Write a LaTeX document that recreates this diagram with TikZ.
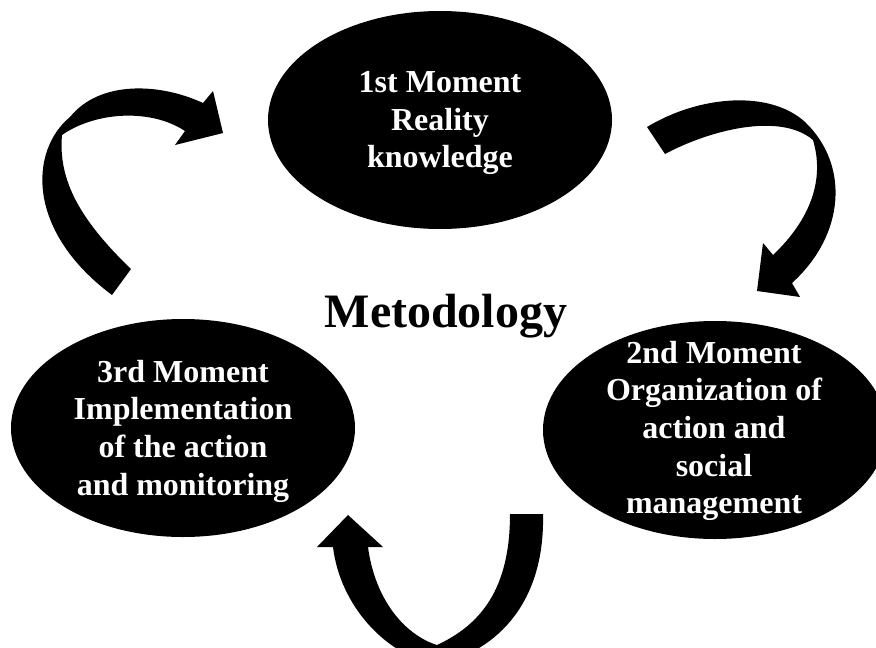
\documentclass[tikz,border=0pt]{standalone}
\usepackage{fontspec}
\setmainfont{Liberation Serif}
\usetikzlibrary{shapes.geometric}

\begin{document}
\begin{tikzpicture}[x=1pt, y=-1pt,
    moment/.style={ellipse, fill=black, minimum width=344pt, minimum height=218pt, inner sep=0pt},
    momtext/.style={text=white, align=center, font=\fontsize{32}{37.7}\selectfont\bfseries},
    bigarrow/.style={fill=black}]
  \useasboundingbox (0,0) rectangle (876,648);
  % the three moments
  \node[moment] (first)  at (440,120) {};
  \node[moment] (second) at (715,430) {};
  \node[moment] (third)  at (183,428) {};
  \node[momtext] (firsttext)  at (440,123) {1st Moment\\Reality\\knowledge};
  \node[momtext] (secondtext) at (714,431) {2nd Moment\\Organization of\\action and\\social\\management};
  \node[momtext] (thirdtext)  at (183,431) {3rd Moment\\Implementation\\of the action\\and monitoring};
  \node[font=\fontsize{48}{56}\selectfont\bfseries] (title) at (446,316) {Metodology};
  % curved block arrows
  \fill[bigarrow] (647,127) -- (665,154)
    .. controls (710,130) and (780,112) .. (813,140)
    .. controls (825,180) and (810,220) .. (773,255)
    -- (763,243) -- (757,291) -- (800,297) -- (792,283)
    .. controls (845,235) and (850,165) .. (805,122)
    .. controls (770,90) and (700,95) .. (647,127) -- cycle;
  \begin{scope}
    \clip (0,0) rectangle (876,648);
    \fill[bigarrow] (510,514) -- (543,514)
      .. controls (545,600) and (500,650) .. (437,665)
      .. controls (385,655) and (340,605) .. (333,547)
      -- (317,547) -- (348,515) -- (383,547) -- (368,547)
      .. controls (375,600) and (405,635) .. (437,645)
      .. controls (480,625) and (510,590) .. (510,514) -- cycle;
  \end{scope}
  \fill[bigarrow] (112,295) -- (131,269)
    .. controls (80,220) and (58,180) .. (62,135)
    .. controls (95,112) and (150,108) .. (185,131)
    -- (175,145) -- (223,133) -- (213,91) -- (203,103)
    .. controls (160,83) and (100,80) .. (70,117)
    .. controls (30,150) and (25,230) .. (112,295) -- cycle;
\end{tikzpicture}
\end{document}
